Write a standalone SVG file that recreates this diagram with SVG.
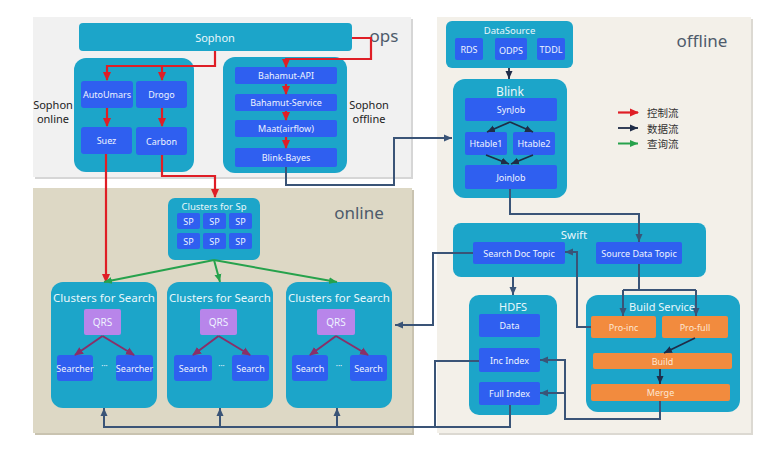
<svg xmlns="http://www.w3.org/2000/svg" width="771" height="459" viewBox="0 0 771 459">
<style>
text{font-family:"Noto Sans","Open Sans","Noto Sans CJK SC",sans-serif;text-anchor:middle;dominant-baseline:central}
.panel{stroke:none}
.cont{fill:#1ca5c9}
.box{fill:#2f5ff0}
.bt{fill:#eef3ff;font-size:9px}
.ct{fill:#e8f7fb;font-size:11px}
.qrs{fill:#b885ea}
.org{fill:#f28b3e}
.ot{fill:#fde6d2;font-size:9px}
.big{fill:#4e5b6b;font-size:17px}
.lab{fill:#222;font-size:11px}
.leg{font-family:"Noto Sans CJK SC",sans-serif;font-size:10.5px;fill:#333;text-anchor:start}
.red{stroke:#df1e26;stroke-width:2.2;fill:none}
.nav{stroke:#3a5477;stroke-width:2;fill:none}
.nav2{stroke:#1f2c48;stroke-width:1.8;fill:none}
.grn{stroke:#26a24c;stroke-width:2;fill:none}
.pur{stroke:#8a2f69;stroke-width:2;fill:none}
</style>
<defs>
<marker id="mr" markerUnits="userSpaceOnUse" markerWidth="10" markerHeight="10" refX="8" refY="5" orient="auto"><path d="M0,1 L9,5 L0,9 z" fill="#df1e26"/></marker>
<marker id="mn" markerUnits="userSpaceOnUse" markerWidth="10" markerHeight="10" refX="8" refY="5" orient="auto"><path d="M0,1.5 L8,5 L0,8.5 z" fill="#3a5477"/></marker>
<marker id="mn2" markerUnits="userSpaceOnUse" markerWidth="10" markerHeight="10" refX="8" refY="5" orient="auto"><path d="M0,1.5 L8,5 L0,8.5 z" fill="#1f2c48"/></marker>
<marker id="mg" markerUnits="userSpaceOnUse" markerWidth="10" markerHeight="10" refX="8" refY="5" orient="auto"><path d="M0,1.5 L8,5 L0,8.5 z" fill="#26a24c"/></marker>
<marker id="mp" markerUnits="userSpaceOnUse" markerWidth="10" markerHeight="10" refX="8" refY="5" orient="auto"><path d="M0,1 L9,5 L0,9 z" fill="#8a2f69"/></marker>
</defs>
<rect width="771" height="459" fill="#ffffff"/>

<!-- panels -->
<g id="panel-ops">
<rect x="35" y="19" width="378" height="160" fill="#d6d6d6"/>
<rect x="33" y="17" width="378" height="160" fill="#f1f1f1"/>
<text class="big" x="384" y="35" style="font-size:17px">ops</text>
<text class="lab" x="53" y="104">Sophon</text>
<text class="lab" x="53" y="118">online</text>
<text class="lab" x="369" y="104">Sophon</text>
<text class="lab" x="369" y="118">offline</text>
</g>
<g id="panel-online">
<rect x="35" y="190" width="379" height="245" fill="#c9c3b0"/>
<rect x="33" y="188" width="379" height="245" fill="#ddd8c5"/>
<text class="big" x="359" y="212">online</text>
</g>
<g id="panel-offline">
<rect x="439" y="19" width="314" height="416" fill="#dcd9d2"/>
<rect x="437" y="17" width="314" height="416" fill="#f3f0e9"/>
<text class="big" x="702" y="40">offline</text>
</g>

<!-- nodes -->
<g id="sophon"><rect class="cont" x="79" y="23" width="273" height="28" rx="4"/><text class="ct" x="215" y="37">Sophon</text></g>

<g id="sophon-online"><rect class="cont" x="74" y="58" width="120" height="114" rx="12"/></g>
<g id="autoumars"><rect class="box" x="81" y="81" width="52" height="27" rx="3"/><text class="bt" x="107" y="94.5">AutoUmars</text></g>
<g id="drogo"><rect class="box" x="136" y="81" width="51" height="27" rx="3"/><text class="bt" x="161.5" y="94.5">Drogo</text></g>
<g id="suez"><rect class="box" x="81" y="127" width="51" height="27" rx="3"/><text class="bt" x="106.5" y="140.5">Suez</text></g>
<g id="carbon"><rect class="box" x="136" y="127" width="51" height="28" rx="3"/><text class="bt" x="161.5" y="141">Carbon</text></g>

<g id="sophon-offline"><rect class="cont" x="223" y="57" width="124" height="116" rx="12"/></g>
<g id="bahamut-api"><rect class="box" x="235" y="67" width="102" height="17" rx="2"/><text class="bt" x="286" y="75.5">Bahamut-API</text></g>
<g id="bahamut-service"><rect class="box" x="235" y="94" width="102" height="17" rx="2"/><text class="bt" x="286" y="102.5">Bahamut-Service</text></g>
<g id="maat"><rect class="box" x="235" y="120" width="102" height="17" rx="2"/><text class="bt" x="286" y="128.5">Maat(airflow)</text></g>
<g id="blink-bayes"><rect class="box" x="235" y="148" width="102" height="19" rx="2"/><text class="bt" x="286" y="157.5">Blink-Bayes</text></g>

<g id="clusters-sp"><rect class="cont" x="168" y="198" width="92" height="62" rx="7"/><text class="ct" x="214" y="206" style="font-size:9.5px">Clusters  for Sp</text>
<rect class="box" x="177" y="213" width="23" height="16" rx="2"/><text class="bt" x="188.5" y="221">SP</text>
<rect class="box" x="203" y="213" width="23" height="16" rx="2"/><text class="bt" x="214.5" y="221">SP</text>
<rect class="box" x="229" y="213" width="23" height="16" rx="2"/><text class="bt" x="240.5" y="221">SP</text>
<rect class="box" x="177" y="233" width="23" height="16" rx="2"/><text class="bt" x="188.5" y="241">SP</text>
<rect class="box" x="203" y="233" width="23" height="16" rx="2"/><text class="bt" x="214.5" y="241">SP</text>
<rect class="box" x="229" y="233" width="23" height="16" rx="2"/><text class="bt" x="240.5" y="241">SP</text>
</g>

<g id="search1"><rect class="cont" x="51" y="282" width="106" height="126" rx="12"/><text class="ct" x="104" y="297" style="font-size:11.5px">Clusters for Search</text>
<rect class="qrs" x="84" y="309" width="37" height="26" rx="2"/><text class="bt" x="102.5" y="322" style="font-size:10px">QRS</text>
<rect class="box" x="57" y="355" width="36" height="26" rx="3"/><text class="bt" x="75" y="368">Searcher</text>
<rect class="box" x="116" y="355" width="37" height="26" rx="3"/><text class="bt" x="134.5" y="368">Searcher</text>
<text class="bt" x="104.5" y="365" style="font-size:8px">···</text></g>
<g id="search2"><rect class="cont" x="167" y="282" width="106" height="126" rx="12"/><text class="ct" x="220" y="297" style="font-size:11.5px">Clusters for Search</text>
<rect class="qrs" x="200" y="309" width="37" height="26" rx="2"/><text class="bt" x="218.5" y="322" style="font-size:10px">QRS</text>
<rect class="box" x="174" y="355" width="38" height="26" rx="3"/><text class="bt" x="193" y="368">Search</text>
<rect class="box" x="232" y="355" width="37" height="26" rx="3"/><text class="bt" x="250.5" y="368">Search</text>
<text class="bt" x="221.5" y="365" style="font-size:8px">···</text></g>
<g id="search3"><rect class="cont" x="286" y="282" width="106" height="126" rx="12"/><text class="ct" x="339" y="297" style="font-size:11.5px">Clusters for Search</text>
<rect class="qrs" x="317" y="309" width="38" height="26" rx="2"/><text class="bt" x="336" y="322" style="font-size:10px">QRS</text>
<rect class="box" x="292" y="355" width="36" height="26" rx="3"/><text class="bt" x="310" y="368">Search</text>
<rect class="box" x="350" y="355" width="37" height="26" rx="3"/><text class="bt" x="368.5" y="368">Search</text>
<text class="bt" x="339" y="365" style="font-size:8px">···</text></g>

<g id="datasource"><rect class="cont" x="446" y="21" width="127" height="47" rx="6"/><text class="ct" x="509.5" y="30" style="font-size:9.5px">DataSource</text>
<rect class="box" x="455" y="38" width="28" height="22" rx="2"/><text class="bt" x="469" y="49">RDS</text>
<rect class="box" x="495" y="38" width="32" height="22" rx="2"/><text class="bt" x="511" y="50">ODPS</text>
<rect class="box" x="537" y="38" width="28" height="22" rx="2"/><text class="bt" x="551" y="49">TDDL</text></g>

<g id="blink"><rect class="cont" x="453" y="79" width="114" height="119" rx="12"/><text class="ct" x="510" y="91" style="font-size:12px">Blink</text>
<rect class="box" x="465" y="98" width="92" height="23" rx="2"/><text class="bt" x="511" y="109.5">SynJob</text>
<rect class="box" x="465" y="132" width="42" height="23" rx="2"/><text class="bt" x="486" y="143.5">Htable1</text>
<rect class="box" x="513" y="132" width="42" height="23" rx="2"/><text class="bt" x="534" y="143.5">Htable2</text>
<rect class="box" x="465" y="165" width="92" height="24" rx="2"/><text class="bt" x="511" y="177">JoinJob</text></g>

<g id="legend">
<text class="leg" x="647" y="112.5">控制流</text>
<text class="leg" x="647" y="128">数据流</text>
<text class="leg" x="647" y="143.5">查询流</text>
</g>

<g id="swift"><rect class="cont" x="453" y="223" width="253" height="54" rx="8"/><text class="ct" x="574" y="234" style="font-size:11.5px">Swift</text>
<rect class="box" x="473" y="242" width="92" height="22" rx="2"/><text class="bt" x="519" y="253">Search Doc Topic</text>
<rect class="box" x="596" y="242" width="86" height="22" rx="2"/><text class="bt" x="639" y="253">Source Data Topic</text></g>

<g id="hdfs"><rect class="cont" x="469" y="295" width="88" height="120" rx="10"/><text class="ct" x="513" y="306">HDFS</text>
<rect class="box" x="479" y="314" width="61" height="23" rx="2"/><text class="bt" x="509.5" y="325.5">Data</text>
<rect class="box" x="479" y="348" width="61" height="24" rx="2"/><text class="bt" x="509.5" y="360">Inc Index</text>
<rect class="box" x="479" y="382" width="61" height="23" rx="2"/><text class="bt" x="509.5" y="393.5">Full Index</text></g>

<g id="build-service"><rect class="cont" x="586" y="295" width="154" height="117" rx="12"/><text class="ct" x="662" y="306">Build Service</text>
<rect class="org" x="591" y="316" width="65" height="22" rx="2"/><text class="ot" x="623.5" y="327">Pro-inc</text>
<rect class="org" x="662" y="316" width="66" height="22" rx="2"/><text class="ot" x="695" y="327">Pro-full</text>
<rect class="org" x="593" y="353" width="139" height="16" rx="2"/><text class="ot" x="662.5" y="361">Build</text>
<rect class="org" x="591" y="384" width="139" height="17" rx="2"/><text class="ot" x="660.5" y="392.5">Merge</text></g>

<!-- connectors -->
<g id="connectors">
<path class="red" d="M215,51 V66 H107 V80" marker-end="url(#mr)"/>
<path class="red" d="M162,66 V80" marker-end="url(#mr)"/>
<path class="red" d="M107,108 V126" marker-end="url(#mr)"/>
<path class="red" d="M162,108 V126" marker-end="url(#mr)"/>
<path class="red" d="M352,38 H371 V59 H286 V67" marker-end="url(#mr)"/>
<path class="red" d="M286,84 V94" marker-end="url(#mr)"/>
<path class="red" d="M286,111 V120" marker-end="url(#mr)"/>
<path class="red" d="M286,137 V148" marker-end="url(#mr)"/>
<path class="red" d="M106,154 V282" marker-end="url(#mr)"/>
<path class="red" d="M162,155 V176 H215 V197" marker-end="url(#mr)"/>

<path class="grn" d="M214,260 L104,282" marker-end="url(#mg)"/>
<path class="grn" d="M214,260 L220,282" marker-end="url(#mg)"/>
<path class="grn" d="M214,260 L337,282" marker-end="url(#mg)"/>

<path class="pur" d="M102.5,336 L75,355" marker-end="url(#mp)"/>
<path class="pur" d="M102.5,336 L134,355" marker-end="url(#mp)"/>
<path class="pur" d="M218.5,336 L193,355" marker-end="url(#mp)"/>
<path class="pur" d="M218.5,336 L250,355" marker-end="url(#mp)"/>
<path class="pur" d="M336,336 L310,355" marker-end="url(#mp)"/>
<path class="pur" d="M336,336 L368,355" marker-end="url(#mp)"/>

<path class="nav" d="M286,167 V185 H394 V138 H452" marker-end="url(#mn)"/>
<path class="nav2" d="M509,68 V79" marker-end="url(#mn2)"/>
<path class="nav2" d="M510,122 L487,132" marker-end="url(#mn2)"/>
<path class="nav2" d="M510,122 L533,132" marker-end="url(#mn2)"/>
<path class="nav2" d="M486,155 L509,164" marker-end="url(#mn2)"/>
<path class="nav2" d="M533,155 L511,164" marker-end="url(#mn2)"/>
<path class="nav" d="M510,189 V214 H639 V242" marker-end="url(#mn)"/>
<path class="nav" d="M513,277 V295" marker-end="url(#mn)"/>
<path class="nav" d="M639,264 V290 M623,290 H696"/>
<path class="nav" d="M623,290 V316" marker-end="url(#mn)"/>
<path class="nav" d="M696,290 V316" marker-end="url(#mn)"/>
<path class="nav" d="M591,327 H577 V252 H565" marker-end="url(#mn)"/>
<path class="nav2" d="M695,338 L664,353" marker-end="url(#mn2)"/>
<path class="nav2" d="M660,369 V384" marker-end="url(#mn2)"/>
<path class="nav" d="M660,401 V419 H565 V360 H540" marker-end="url(#mn)"/>
<path class="nav" d="M565,393 H540" marker-end="url(#mn)"/>
<path class="nav" d="M473,253 H433 V325 H395" marker-end="url(#mn)"/>
<path class="nav" d="M479,361 H435 V427 H104 V408" marker-end="url(#mn)"/>
<path class="nav" d="M220,427 V408" marker-end="url(#mn)"/>
<path class="nav" d="M337,427 V408" marker-end="url(#mn)"/>
<path class="nav" d="M510,405 V427 H435"/>

<path class="red" d="M618,112.5 H638" marker-end="url(#mr)"/>
<path class="nav2" d="M618,128 H638" stroke-width="2" marker-end="url(#mn2)"/>
<path class="grn" d="M618,143.5 H638" marker-end="url(#mg)"/>
</g>
</svg>
